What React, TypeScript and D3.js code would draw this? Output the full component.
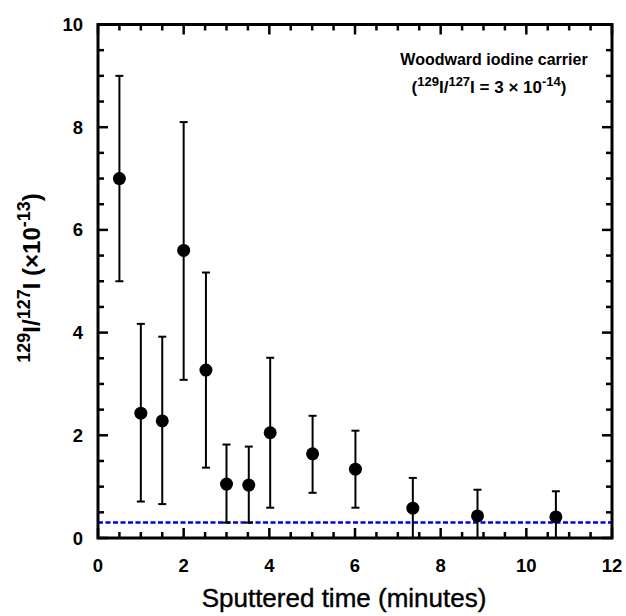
import React from "react";
import * as d3 from "d3";

const times = [0.5, 1.0, 1.5, 2.0, 2.52, 3.0, 3.52, 4.02, 5.01, 6.01, 7.35, 8.86, 10.69];
const ratios = [7.0, 2.43, 2.28, 5.6, 3.27, 1.05, 1.03, 2.05, 1.64, 1.34, 0.58, 0.43, 0.41];
const errLow = [5.0, 0.71, 0.66, 3.08, 1.37, 0.3, 0.3, 0.59, 0.88, 0.59, -0.01, -0.08, -0.09];
const errHigh = [9.0, 4.17, 3.92, 8.1, 5.17, 1.82, 1.78, 3.51, 2.38, 2.09, 1.17, 0.94, 0.91];
const carrierLevel = 0.3;
const xTicks = [0, 2, 4, 6, 8, 10, 12];
const yTicks = [0, 2, 4, 6, 8, 10];

const W = 626;
const H = 616;
const L = 98, R = 612, T = 24.5, B = 538;

export default function App() {
  const x = d3.scaleLinear().domain([0, 12]).range([L, R]);
  const y = d3.scaleLinear().domain([0, 10]).range([B, T]);
  const xMinor = d3.range(0, 12.01, 0.5).filter((v) => !xTicks.includes(v));
  const yMinor = d3.range(0, 10.01, 0.5).filter((v) => !yTicks.includes(v));
  const font = "'Liberation Sans', Arial, sans-serif";
  const majorLen = 10, minorLen = 6;
  const clipY = (v: number) => Math.max(0, Math.min(10, v));

  return (
    <svg width={W} height={H} style={{ position: "absolute", left: 0, top: 0 }} fontFamily={font}>
      <rect width={W} height={H} fill="#fff" />
      {/* carrier level */}
      <line x1={x(0)} x2={x(12)} y1={y(carrierLevel)} y2={y(carrierLevel)} stroke="#0000ee" strokeWidth={2.5} strokeDasharray="5,2.5" />
      {/* error bars */}
      {times.map((t, i) => {
        const lo = clipY(errLow[i]);
        const hi = clipY(errHigh[i]);
        return (
          <g key={"e" + i} stroke="#000" strokeWidth={2}>
            <line x1={x(t)} x2={x(t)} y1={y(lo)} y2={y(hi)} />
            <line x1={x(t) - 4} x2={x(t) + 4} y1={y(hi)} y2={y(hi)} />
            {errLow[i] > 0.05 && <line x1={x(t) - 4} x2={x(t) + 4} y1={y(lo)} y2={y(lo)} />}
          </g>
        );
      })}
      {times.map((t, i) => (
        <circle key={"p" + i} cx={x(t)} cy={y(ratios[i])} r={6.5} fill="#000" />
      ))}
      {/* ticks */}
      <g stroke="#000" strokeWidth={2.5}>
        {xTicks.map((v) => (
          <g key={"xt" + v}>
            <line x1={x(v)} x2={x(v)} y1={B} y2={B - majorLen} />
            <line x1={x(v)} x2={x(v)} y1={T} y2={T + majorLen} />
          </g>
        ))}
        {xMinor.map((v) => (
          <g key={"xm" + v}>
            <line x1={x(v)} x2={x(v)} y1={B} y2={B - minorLen} />
            <line x1={x(v)} x2={x(v)} y1={T} y2={T + minorLen} />
          </g>
        ))}
        {yTicks.map((v) => (
          <g key={"yt" + v}>
            <line x1={L} x2={L + majorLen} y1={y(v)} y2={y(v)} />
            <line x1={R} x2={R - majorLen} y1={y(v)} y2={y(v)} />
          </g>
        ))}
        {yMinor.map((v) => (
          <g key={"ym" + v}>
            <line x1={L} x2={L + minorLen} y1={y(v)} y2={y(v)} />
            <line x1={R} x2={R - minorLen} y1={y(v)} y2={y(v)} />
          </g>
        ))}
      </g>
      <rect x={L} y={T} width={R - L} height={B - T} fill="none" stroke="#000" strokeWidth={3} />
      {/* tick labels */}
      <g fontSize={18.5} fontWeight="bold" fill="#000">
        {xTicks.map((v) => (
          <text key={"xl" + v} x={x(v)} y={572} textAnchor="middle">{v}</text>
        ))}
        {yTicks.map((v) => (
          <text key={"yl" + v} x={83} y={y(v) + 6.5} textAnchor="end">{v}</text>
        ))}
      </g>
      {/* axis titles */}
      <text x={344} y={607} textAnchor="middle" fontSize={26} fill="#000" stroke="#000" strokeWidth={0.4}>Sputtered time (minutes)</text>
      <text transform={`translate(40,278) rotate(-90)`} textAnchor="middle" fontSize={24} fontWeight="bold" fill="#000">
        <tspan fontSize={18} dy={-10}>129</tspan>
        <tspan dy={10}>I/</tspan>
        <tspan fontSize={18} dy={-10}>127</tspan>
        <tspan dy={10}>I (×10</tspan>
        <tspan fontSize={18} dy={-10}>-13</tspan>
        <tspan dy={10}>)</tspan>
      </text>
      {/* annotation */}
      <g fontWeight="bold" fill="#000" textAnchor="middle">
        <text x={494} y={65} fontSize={16}>Woodward iodine carrier</text>
        <text x={489} y={93} fontSize={17}>
          <tspan>(</tspan>
          <tspan fontSize={13} dy={-7}>129</tspan>
          <tspan dy={7}>I/</tspan>
          <tspan fontSize={13} dy={-7}>127</tspan>
          <tspan dy={7}>I = 3 × 10</tspan>
          <tspan fontSize={13} dy={-7}>-14</tspan>
          <tspan dy={7}>)</tspan>
        </text>
      </g>
    </svg>
  );
}
